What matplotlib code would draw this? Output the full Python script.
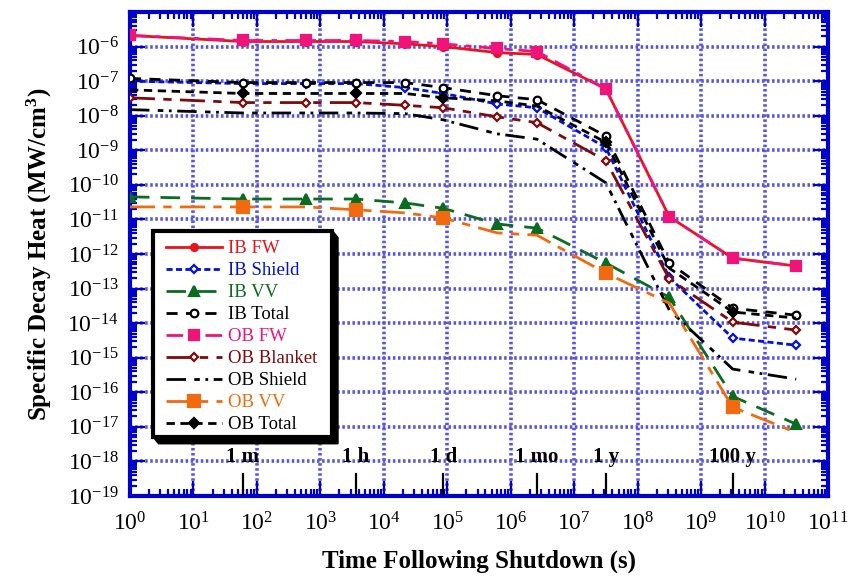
import matplotlib
matplotlib.use("Agg")
import matplotlib.pyplot as plt
from matplotlib.lines import Line2D
from matplotlib.patches import Rectangle, Polygon
from matplotlib.ticker import LogLocator, NullFormatter
import matplotlib.transforms as mtransforms

plt.rcParams['font.family'] = ['Liberation Serif', 'DejaVu Serif']
plt.rcParams['mathtext.fontset'] = 'custom'
plt.rcParams['mathtext.rm'] = 'Liberation Serif'
plt.rcParams['mathtext.bf'] = 'Liberation Serif:bold'
plt.rcParams['mathtext.it'] = 'Liberation Serif:italic'

# time after shutdown (s): 1 s, 1 m, 10 m, 1 h, 6 h, 1 d, 1 wk, 1 mo, 1 y, 10 y, 100 y, 1000 y
time_s = [1, 60, 600, 3600, 21600, 86400, 604800, 2.592e6, 3.1536e7, 3.1536e8, 3.1536e9, 3.1536e10]

ib_fw = [2.1e-6, 1.4e-6, 1.4e-6, 1.4e-6, 1.2e-6, 1.0e-6, 6.7e-7, 5.9e-7, 6.0e-8, 1.2e-11, 7.6e-13, 4.5e-13]
ib_shield = [1.0e-7, 8.5e-8, 8.5e-8, 8.5e-8, 6.5e-8, 4.4e-8, 2.2e-8, 1.7e-8, 1.2e-9, 2.1e-13, 3.7e-15, 2.3e-15]
ib_vv = [4.5e-11, 3.9e-11, 3.9e-11, 3.9e-11, 3.0e-11, 2.1e-11, 7.4e-12, 5.6e-12, 5.5e-13, 5.6e-14, 7.6e-17, 1.2e-17]
ib_total = [1.2e-7, 9.1e-8, 9.1e-8, 9.1e-8, 9.1e-8, 6.5e-8, 3.8e-8, 2.9e-8, 2.6e-9, 5.5e-13, 2.7e-14, 1.7e-14]
ob_fw = [2.1e-6, 1.5e-6, 1.5e-6, 1.5e-6, 1.4e-6, 1.2e-6, 8.8e-7, 7.2e-7, 6.0e-8, 1.2e-11, 7.6e-13, 4.5e-13]
ob_blanket = [3.3e-8, 2.4e-8, 2.4e-8, 2.4e-8, 2.0e-8, 1.7e-8, 9.3e-9, 6.3e-9, 5.0e-10, 1.9e-13, 1.07e-14, 6.3e-15]
ob_shield = [1.5e-8, 1.2e-8, 1.2e-8, 1.2e-8, 1.15e-8, 7.6e-9, 3.0e-9, 2.1e-9, 1.15e-10, 2.4e-14, 4.7e-16, 2.4e-16]
ob_vv = [2.3e-11, 2.3e-11, 2.3e-11, 1.9e-11, 1.55e-11, 1.1e-11, 4.1e-12, 3.5e-12, 2.8e-13, 3.8e-14, 3.7e-17, 6.9e-18]
ob_total = [5.6e-8, 4.4e-8, 4.4e-8, 4.4e-8, 4.4e-8, 3.3e-8, 2.7e-8, 1.9e-8, 1.7e-9, 3.9e-13, 2.1e-14, 1.4e-14]

# time markers along the bottom
mark_labels = ['1 m', '1 h', '1 d', '1 mo', '1 y', '100 y']
mark_times = [60, 3600, 86400, 2.592e6, 3.1536e7, 3.1536e9]

sparse = [1, 3, 5, 8, 10]

# label, data, colour, dash, marker, marker size, marker face, markevery
series = [
  ('IB FW', ib_fw, '#e8141c', '-', 'o', 5, None, None),
  ('IB Shield', ib_shield, '#0010dd', (0, (2.2, 1.2)), 'D', 4, 'white', None),
  ('IB VV', ib_vv, '#0b6b1e', (0, (7, 4)), '^', 7, None, None),
  ('IB Total', ib_total, 'black', (0, (4, 3)), 'o', 5.5, 'white', None),
  ('OB FW', ob_fw, '#f0147a', (0, (6, 3, 2, 3)), 's', 7.5, None, None),
  ('OB Blanket', ob_blanket, '#7f0a0a', (0, (9, 3, 3, 3)), 'D', 4, 'white', None),
  ('OB Shield', ob_shield, 'black', (0, (7, 3, 2, 2, 1, 2)), None, 0, None, None),
  ('OB VV', ob_vv, '#f26a10', (0, (9, 3, 3, 3)), 's', 8, None, sparse),
  ('OB Total', ob_total, 'black', (0, (3, 2)), 'D', 5, None, sparse),
]

fig = plt.figure(figsize=(8.48, 5.8), dpi=100)
fig.subplots_adjust(left=0.1533, right=0.9764, top=0.9793, bottom=0.1448)
ax = fig.add_subplot(111)

axis_blue = '#0000cc'

handles = []
for label, vals, col, ls, mk, ms, mfc, every in series:
  ax.plot(time_s, vals, color=col, linestyle=ls, lw=2, marker=mk, markersize=ms,
          markerfacecolor=mfc if mfc else col, markeredgecolor=col,
          markeredgewidth=1.6, markevery=every, zorder=3)
  handles.append(Line2D([], [], color=col, linestyle=ls, lw=2, marker=mk, markersize=ms,
                        markerfacecolor=mfc if mfc else col, markeredgecolor=col,
                        markeredgewidth=1.6, label=label))

ax.set_xscale('log')
ax.set_yscale('log')
ax.set_xlim(1, 1e11)
ax.set_ylim(1e-19, 1e-5)

ax.xaxis.set_major_locator(LogLocator(base=10, numticks=20))
ax.xaxis.set_minor_locator(LogLocator(base=10, subs=range(2, 10), numticks=20))
ax.xaxis.set_minor_formatter(NullFormatter())
ax.set_yticks([10.0 ** k for k in range(-19, -5)])
ax.yaxis.set_minor_locator(LogLocator(base=10, subs=range(2, 10), numticks=30))
ax.yaxis.set_minor_formatter(NullFormatter())

ax.grid(which='major', color='#5656e6', linestyle=(0, (0.7, 0.7)), lw=2.6, zorder=1)
ax.set_axisbelow(True)

ax.tick_params(which='both', direction='in', top=True, right=True, color=axis_blue,
               labelsize=17, width=1.6)
ax.tick_params(which='major', length=11)
ax.tick_params(which='minor', length=5)
ax.tick_params(axis='x', pad=12)
ax.tick_params(axis='y', pad=8)
for sp in ax.spines.values():
  sp.set_color(axis_blue)
  sp.set_linewidth(3)

ax.set_xlabel('Time Following Shutdown (s)', fontsize=18, fontweight='bold', labelpad=10)
ax.set_ylabel('Specific Decay Heat (MW/cm$^\\mathbf{3}$)', fontsize=18,
              fontweight='bold', labelpad=10)

# time markers
trans = mtransforms.blended_transform_factory(ax.transData, ax.transAxes)
for lab, t in zip(mark_labels, mark_times):
  ax.plot([t, t], [0.004, 0.045], color='black', lw=1.6, transform=trans, zorder=4)
  ax.text(t, 0.081, lab, transform=trans, ha='center', va='center',
          fontsize=15, fontweight='bold', zorder=4)

# legend box with a solid black drop shadow
bx0, by0, bw, bh = 0.033, 0.122, 0.257, 0.426
sx, sy = 0.008, 0.014
shadow = Polygon([(bx0 + sx, by0 - sy), (bx0 + bw + sx, by0 - sy),
                  (bx0 + bw + sx, by0 + bh - sy), (bx0 + bw, by0 + bh),
                  (bx0, by0)],
                 closed=True, transform=ax.transAxes, facecolor='black',
                 edgecolor='black', zorder=6)
ax.add_patch(shadow)
ax.add_patch(Rectangle((bx0, by0), bw, bh, transform=ax.transAxes, facecolor='white',
                       edgecolor='black', lw=3, zorder=7))

leg = ax.legend(handles=handles, loc='upper left', bbox_to_anchor=(bx0 + 0.008, by0 + bh - 0.004),
                frameon=False, fontsize=13.5, handlelength=3.0, handletextpad=0.3,
                labelspacing=0.26, borderaxespad=0, numpoints=1)
leg.set_zorder(8)
for txt, h in zip(leg.get_texts(), handles):
  txt.set_color(h.get_color())

fig.savefig('out.png', dpi=100)
